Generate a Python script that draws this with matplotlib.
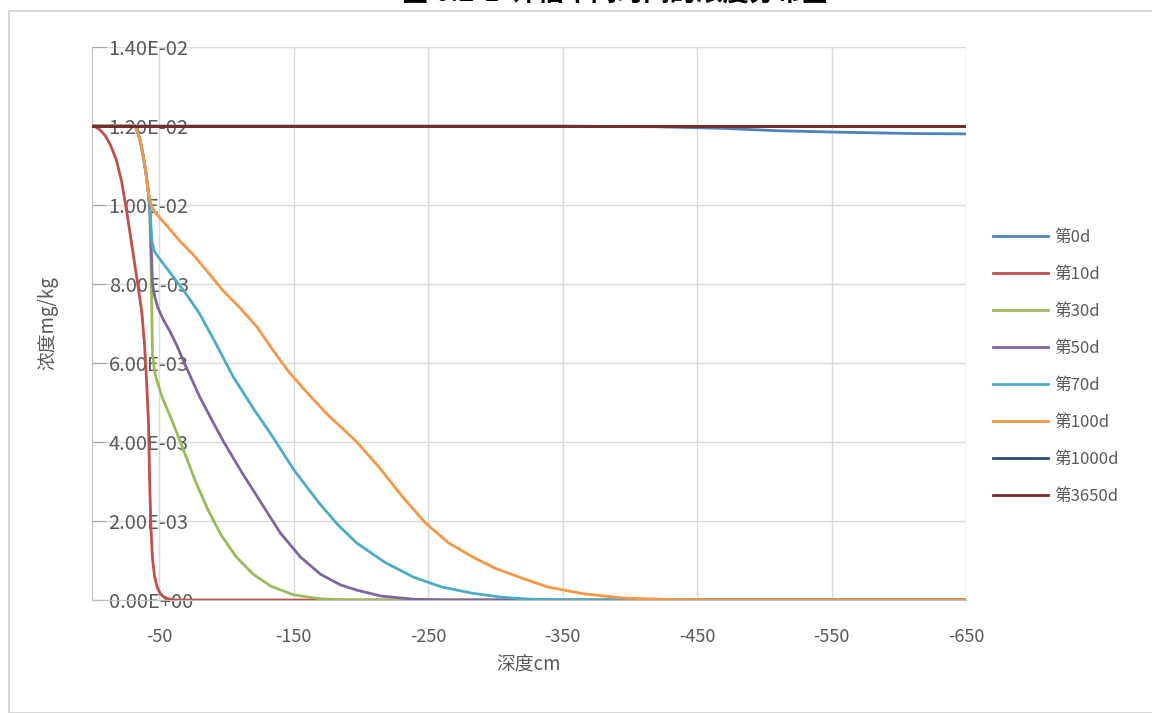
import numpy as np
import matplotlib.pyplot as plt
from matplotlib.ticker import FuncFormatter, FixedLocator
from matplotlib.patches import Rectangle

plt.rcParams['font.family'] = ['Noto Sans CJK SC', 'DejaVu Sans']
plt.rcParams['axes.unicode_minus'] = False

# 读图得到的数据（深度 cm，浓度 单位 1e-3 mg/kg）
labels = ['第0d', '第10d', '第30d', '第50d', '第70d', '第100d', '第1000d', '第3650d']
colors = ['#4F81BD', '#C0504D', '#9BBB59', '#8064A2', '#4BACC6', '#F79646', '#2C4D75', '#772C2A']

d_0d = [0, 350, 420, 470, 510, 560, 610, 650]
c_0d = [12.0, 12.0, 11.98, 11.94, 11.88, 11.84, 11.81, 11.80]

d_10d = [0, 3, 6, 10, 14, 18, 22, 26, 30, 34, 37, 39, 40.5, 42, 43, 44, 45, 46.5, 48.5, 51, 54, 58, 62, 650]
c_10d = [12.0, 11.97, 11.9, 11.75, 11.5, 11.15, 10.6, 9.8, 8.9, 8.0, 7.3, 6.5, 5.6, 4.5, 2.8, 1.7, 1.05, 0.6, 0.32, 0.15, 0.06, 0.02, 0.0, 0.0]

d_30d = [0, 32, 34, 36, 38, 40, 42, 43, 44, 45, 47, 52, 60, 68, 77, 86, 96, 107, 120, 133, 150, 170, 190, 650]
c_30d = [12.0, 12.0, 11.85, 11.6, 11.25, 10.85, 10.3, 9.8, 8.3, 6.2, 5.7, 5.15, 4.5, 3.8, 3.0, 2.3, 1.65, 1.1, 0.65, 0.35, 0.13, 0.03, 0.0, 0.0]

d_50d = [0, 32, 34, 36, 38, 40, 42, 43, 44, 45, 46.5, 49, 53, 58, 63, 70, 80, 90, 98, 112, 126, 140, 155, 170, 185, 197, 215, 239, 260, 650]
c_50d = [12.0, 12.0, 11.85, 11.6, 11.25, 10.85, 10.3, 9.9, 9.0, 8.0, 7.7, 7.4, 7.1, 6.8, 6.45, 5.9, 5.15, 4.5, 4.0, 3.2, 2.45, 1.7, 1.09, 0.65, 0.38, 0.25, 0.1, 0.02, 0.0, 0.0]

d_70d = [0, 32, 34, 36, 38, 40, 42, 43, 44.5, 46, 50, 60, 70, 80, 92, 105, 120, 135, 150, 169, 183, 197, 218, 239, 260, 283, 305, 326, 350, 650]
c_70d = [12.0, 12.0, 11.85, 11.6, 11.25, 10.85, 10.3, 10.0, 9.1, 8.85, 8.65, 8.2, 7.75, 7.25, 6.5, 5.65, 4.85, 4.1, 3.3, 2.45, 1.9, 1.44, 0.95, 0.58, 0.33, 0.17, 0.07, 0.02, 0.0, 0.0]

d_100d = [0, 32, 34, 36, 38, 40, 42, 44, 46, 55, 65, 75, 85, 97, 110, 123, 135, 147, 160, 175, 197, 215, 230, 248, 265, 283, 300, 320, 339, 365, 395, 430, 460, 650]
c_100d = [12.0, 12.0, 11.85, 11.6, 11.25, 10.85, 10.3, 10.0, 9.85, 9.5, 9.1, 8.75, 8.35, 7.85, 7.4, 6.9, 6.3, 5.75, 5.25, 4.7, 4.0, 3.3, 2.65, 1.95, 1.45, 1.09, 0.8, 0.55, 0.33, 0.16, 0.05, 0.01, 0.0, 0.0]

d_1000d = [0, 650]
c_1000d = [12.0, 12.0]

d_3650d = [0, 650]
c_3650d = [12.0, 12.0]

depths = [d_0d, d_10d, d_30d, d_50d, d_70d, d_100d, d_1000d, d_3650d]
concs = [c_0d, c_10d, c_30d, c_50d, c_70d, c_100d, c_1000d, c_3650d]

x_ticks = [-50, -150, -250, -350, -450, -550, -650]
y_ticks = [0, 0.002, 0.004, 0.006, 0.008, 0.010, 0.012, 0.014]

fig = plt.figure(figsize=(11.52, 7.13), dpi=100)
fig.patch.set_facecolor('white')

# 图表外框
fig.patches.append(Rectangle((9 / 1152, 0), 1.1, 1 - 11 / 713, transform=fig.transFigure,
                             fill=False, edgecolor='#D0D0D0', linewidth=1.2))

# 被截断的图题
fig.text(615 / 1152, 1 - 8 / 713, '图 6.2-1  评估不同时间的浓度分布图', ha='center', va='bottom',
         fontsize=19, fontweight='bold', color='black')

ax = fig.add_axes([92 / 1152, 1 - 600 / 713, (966 - 92) / 1152, (600 - 47) / 713])

for d, c, lab, col in zip(depths, concs, labels, colors):
    ax.plot(-np.array(d), np.array(c) * 1e-3, color=col, lw=2.0, label=lab,
            solid_joinstyle='round', zorder=3)

ax.set_xlim(0, -650)
ax.set_ylim(0, 0.014)
ax.xaxis.set_major_locator(FixedLocator(x_ticks))
ax.yaxis.set_major_locator(FixedLocator(y_ticks))
ax.xaxis.set_major_formatter(FuncFormatter(lambda v, p: f'{v:.0f}'))
ax.yaxis.set_major_formatter(FuncFormatter(lambda v, p: f'{v:.2E}'))

ax.grid(True, color='#D9D9D9', linewidth=1.0, zorder=0)
ax.set_axisbelow(True)
for s in ['top', 'right']:
    ax.spines[s].set_visible(False)
ax.spines['left'].set_color('#BFBFBF')
ax.spines['bottom'].set_color('#BFBFBF')

ax.tick_params(axis='x', length=0, pad=20, labelsize=13, labelcolor='#595959')
ax.tick_params(axis='y', direction='in', length=10, color='#A6A6A6', pad=-12,
               labelsize=14.5, labelcolor='#595959')
for t in ax.get_yticklabels():
    t.set_horizontalalignment('left')

ax.set_xlabel('深度cm', fontsize=13.5, color='#595959', labelpad=6)
ax.set_ylabel('浓度mg/kg', fontsize=13.5, color='#595959', labelpad=24)

ax.legend(loc='center left', bbox_to_anchor=(978 / 1152, 1 - 367 / 713),
          bbox_transform=fig.transFigure, frameon=False, fontsize=12,
          handlelength=3.3, handletextpad=0.4, labelspacing=1.2,
          labelcolor='#595959')

fig.savefig('out.png', dpi=100)
